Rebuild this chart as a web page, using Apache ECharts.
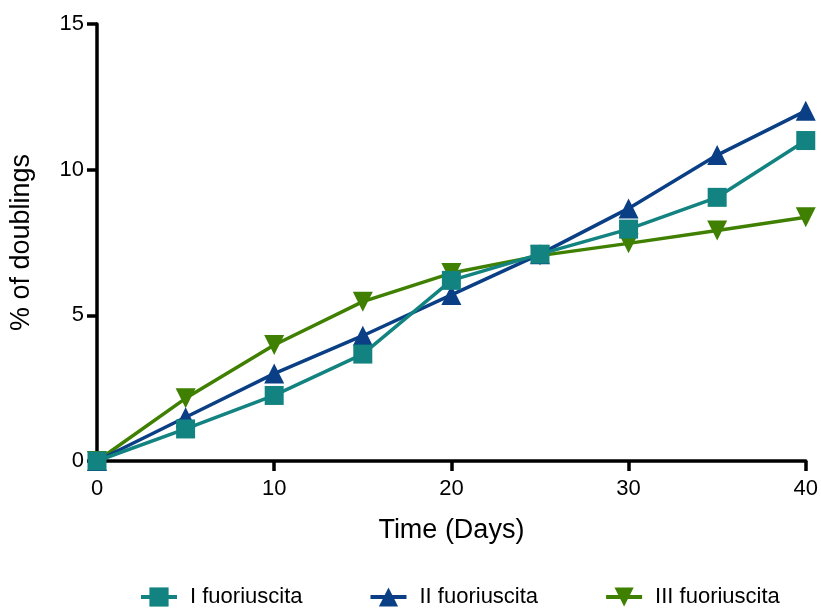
<!DOCTYPE html>
<html>
<head>
<meta charset="utf-8">
<script src="https://cdn.jsdelivr.net/npm/echarts@6/dist/echarts.min.js"></script>
<style>
  html, body { margin: 0; padding: 0; background: #fff; }
  #chart { width: 821px; height: 608px; }
</style>
</head>
<body>
<div id="chart"></div>
<script>
// data
const days = [0, 5, 10, 15, 20, 25, 30, 35, 40]
const seriesNames = ['I fuoriuscita', 'II fuoriuscita', 'III fuoriuscita']
const firstLeak = [0, 1.1, 2.25, 3.67, 6.2, 7.1, 7.96, 9.05, 11.0]
const secondLeak = [0, 1.5, 3.0, 4.3, 5.7, 7.1, 8.67, 10.5, 12.02]
const thirdLeak = [0, 2.15, 3.98, 5.47, 6.45, 7.05, 7.47, 7.91, 8.37]

const pairs = (ys) => days.map((d, i) => [d, ys[i]])

const chart = echarts.init(document.getElementById('chart'))

const axisFont = { color: '#000', fontFamily: 'Liberation Sans, Arial, sans-serif' }

const option = {
  animation: false,
  backgroundColor: '#fff',
  grid: { left: 97, right: 11, top: 24, bottom: 147 },
  legend: {
    left: 134,
    top: 581,
    itemWidth: 36,
    itemHeight: 24,
    itemGap: 66,
    itemStyle: { borderWidth: 0 },
    lineStyle: { width: 4 },
    textStyle: { ...axisFont, fontSize: 22, padding: [0, 0, 0, 8] },
    data: seriesNames
  },
  xAxis: {
    type: 'value',
    min: 0,
    max: 40,
    interval: 10,
    name: 'Time (Days)',
    nameLocation: 'middle',
    nameGap: 56,
    nameTextStyle: { ...axisFont, fontSize: 27 },
    axisLine: { lineStyle: { color: '#000', width: 3.5 } },
    axisTick: { length: 10, lineStyle: { color: '#000', width: 3.5 } },
    axisLabel: { ...axisFont, fontSize: 22, margin: 17 },
    splitLine: { show: false }
  },
  yAxis: {
    type: 'value',
    min: 0,
    max: 15,
    interval: 5,
    name: '% of doublings',
    nameLocation: 'middle',
    nameRotate: 90,
    nameGap: 62,
    nameTextStyle: { ...axisFont, fontSize: 27 },
    axisLine: { lineStyle: { color: '#000', width: 3.5 } },
    axisTick: { length: 10, lineStyle: { color: '#000', width: 3.5 } },
    axisLabel: { ...axisFont, fontSize: 22, margin: 13 },
    splitLine: { show: false }
  },
  series: [
    {
      name: seriesNames[0],
      type: 'line',
      data: pairs(firstLeak),
      symbol: 'rect',
      symbolSize: 19,
      clip: false,
      color: '#128380',
      lineStyle: { width: 3.5 },
      z: 3
    },
    {
      name: seriesNames[1],
      type: 'line',
      data: pairs(secondLeak),
      symbol: 'triangle',
      symbolSize: 20,
      clip: false,
      color: '#0a3f85',
      lineStyle: { width: 3.5 },
      z: 2
    },
    {
      name: seriesNames[2],
      type: 'line',
      data: pairs(thirdLeak),
      symbol: 'path://M0,0 L10,0 L5,10 Z',
      symbolSize: 20,
      clip: false,
      color: '#3f8000',
      lineStyle: { width: 3.5 },
      z: 1
    }
  ]
}

chart.setOption(option)
</script>
</body>
</html>
